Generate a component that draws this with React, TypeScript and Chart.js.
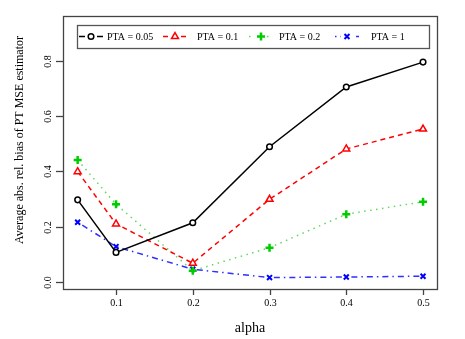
import React, { useEffect, useRef } from "react";
import { Chart, registerables } from "chart.js";
import { drawPoint } from "chart.js/helpers";

Chart.register(...registerables);

// alpha values on the horizontal axis
const alphaValues = [0.05, 0.1, 0.2, 0.3, 0.4, 0.5];

// average absolute relative bias of the PT MSE estimator, one series per PTA level
const pta005 = [0.297, 0.107, 0.214, 0.489, 0.705, 0.795];
const pta01 = [0.399, 0.21, 0.068, 0.299, 0.481, 0.553];
const pta02 = [0.441, 0.281, 0.041, 0.124, 0.245, 0.29];
const pta1 = [0.216, 0.128, 0.046, 0.016, 0.018, 0.021];

const seriesLabels = ["PTA = 0.05", "PTA = 0.1", "PTA = 0.2", "PTA = 1"];

const xTickValues = [0.1, 0.2, 0.3, 0.4, 0.5];
const yTickValues = [0, 0.2, 0.4, 0.6, 0.8];
const xTickLabels = ["0.1", "0.2", "0.3", "0.4", "0.5"];
const yTickLabels = ["0.0", "0.2", "0.4", "0.6", "0.8"];

const xTitle = "alpha";
const yTitle = "Average abs. rel. bias of PT MSE estimator";

const SERIF = "'Liberation Serif', 'Times New Roman', serif";

const toPoints = (ys: number[]) => alphaValues.map((x, i) => ({ x, y: ys[i] }));

// Frame, ticks, tick labels and axis titles drawn in base-graphics style
const axesPlugin = {
  id: "baseAxes",
  afterDatasetsDraw(chart: any) {
    const { ctx, chartArea } = chart;
    const xs = chart.scales.x;
    const ys = chart.scales.y;
    ctx.save();
    ctx.strokeStyle = "#444";
    ctx.lineWidth = 1.3;
    ctx.strokeRect(
      Math.round(chartArea.left) + 0.5,
      Math.round(chartArea.top) + 0.5,
      Math.round(chartArea.right - chartArea.left),
      Math.round(chartArea.bottom - chartArea.top)
    );

    ctx.fillStyle = "#000";
    ctx.font = `10px ${SERIF}`;
    // x ticks
    xTickValues.forEach((v, i) => {
      const px = Math.round(xs.getPixelForValue(v)) + 0.5;
      ctx.beginPath();
      ctx.moveTo(px, chartArea.bottom);
      ctx.lineTo(px, chartArea.bottom + 6);
      ctx.stroke();
      ctx.textAlign = "center";
      ctx.textBaseline = "middle";
      ctx.fillText(xTickLabels[i], px, chartArea.bottom + 14);
    });
    // y ticks with vertical labels
    yTickValues.forEach((v, i) => {
      const py = Math.round(ys.getPixelForValue(v)) + 0.5;
      ctx.beginPath();
      ctx.moveTo(chartArea.left, py);
      ctx.lineTo(chartArea.left - 7, py);
      ctx.stroke();
      ctx.save();
      ctx.translate(chartArea.left - 15, py);
      ctx.rotate(-Math.PI / 2);
      ctx.textAlign = "center";
      ctx.textBaseline = "middle";
      ctx.fillText(yTickLabels[i], 0, 0);
      ctx.restore();
    });

    // axis titles
    ctx.font = `14px ${SERIF}`;
    ctx.textAlign = "center";
    ctx.textBaseline = "middle";
    ctx.fillText(xTitle, (chartArea.left + chartArea.right) / 2, chartArea.bottom + 39);
    ctx.save();
    ctx.translate(20, 140);
    ctx.rotate(-Math.PI / 2);
    ctx.font = `12px ${SERIF}`;
    ctx.fillText(yTitle, 0, 0);
    ctx.restore();
    ctx.restore();
  },
};

// Horizontal boxed legend across the top of the plot region
const legendPlugin = {
  id: "boxLegend",
  afterDraw(chart: any) {
    const { ctx, chartArea } = chart;
    const left = chartArea.left + 14;
    const top = chartArea.top + 9;
    const w = 352;
    const h = 23;
    const cy = top + h / 2;
    ctx.save();
    ctx.fillStyle = "#fff";
    ctx.fillRect(left, top, w, h);
    ctx.strokeStyle = "#555";
    ctx.lineWidth = 1.3;
    ctx.strokeRect(left + 0.5, top + 0.5, w, h);

    const sampleCenters = [14, 98, 184, 270];
    const textStarts = [30, 120, 202, 294];
    chart.data.datasets.forEach((ds: any, i: number) => {
      const cx = left + sampleCenters[i];
      ctx.save();
      ctx.strokeStyle = ds.borderColor;
      ctx.lineWidth = ds.borderWidth;
      ctx.setLineDash(ds.borderDash || []);
      ctx.beginPath();
      ctx.moveTo(cx - 12, cy);
      ctx.lineTo(cx + 12, cy);
      ctx.stroke();
      // small gap around the symbol
      ctx.fillStyle = "#fff";
      ctx.fillRect(cx - 6, cy - 5, 12, 10);
      ctx.restore();

      ctx.save();
      ctx.setLineDash([]);
      ctx.fillStyle = ds.pointBackgroundColor;
      ctx.strokeStyle = ds.pointBorderColor;
      ctx.lineWidth = ds.pointBorderWidth;
      drawPoint(
        ctx,
        { pointStyle: ds.pointStyle, radius: ds.pointRadius, rotation: 0, borderWidth: ds.pointBorderWidth },
        cx,
        cy
      );
      ctx.restore();

      ctx.fillStyle = "#000";
      ctx.font = `10px ${SERIF}`;
      ctx.textAlign = "left";
      ctx.textBaseline = "middle";
      ctx.fillText(seriesLabels[i], left + textStarts[i], cy + 1);
    });
    ctx.restore();
  },
};

export default function App() {
  const canvasRef = useRef<HTMLCanvasElement | null>(null);

  useEffect(() => {
    if (!canvasRef.current) return;
    const chart = new Chart(canvasRef.current, {
      type: "line",
      data: {
        datasets: [
          {
            label: seriesLabels[0],
            data: toPoints(pta005),
            borderColor: "#000",
            borderWidth: 1.5,
            pointStyle: "circle",
            pointRadius: 2.8,
            pointBorderWidth: 1.5,
            pointBackgroundColor: "#fff",
            pointBorderColor: "#000",
          },
          {
            label: seriesLabels[1],
            data: toPoints(pta01),
            borderColor: "#ff0000",
            borderWidth: 1.5,
            borderDash: [5, 4],
            pointStyle: "triangle",
            pointRadius: 4,
            pointBorderWidth: 1.5,
            pointBackgroundColor: "#fff",
            pointBorderColor: "#ff0000",
          },
          {
            label: seriesLabels[2],
            data: toPoints(pta02),
            borderColor: "#5fd95f",
            borderWidth: 1.5,
            borderDash: [1.5, 4.5],
            pointStyle: "cross",
            pointRadius: 4,
            pointBorderWidth: 2.5,
            pointBackgroundColor: "#00cd00",
            pointBorderColor: "#00cd00",
          },
          {
            label: seriesLabels[3],
            data: toPoints(pta1),
            borderColor: "#2f2fff",
            borderWidth: 1.5,
            borderDash: [1.5, 4, 6, 4],
            pointStyle: "crossRot",
            pointRadius: 3.5,
            pointBorderWidth: 2,
            pointBackgroundColor: "#0000ff",
            pointBorderColor: "#0000ff",
          },
        ],
      },
      options: {
        responsive: false,
        animation: false,
        layout: { padding: { left: 63, right: 28, top: 16, bottom: 50 } },
        plugins: { legend: { display: false }, tooltip: { enabled: false } },
        elements: { line: { tension: 0 } },
        scales: {
          x: { type: "linear", min: 0.0309, max: 0.5182, display: false },
          y: { type: "linear", min: -0.0253, max: 0.9617, display: false },
        },
      },
      plugins: [axesPlugin, legendPlugin],
    });
    return () => chart.destroy();
  }, []);

  return (
    <div style={{ position: "fixed", left: 0, top: 0, width: 465, height: 339, background: "#fff" }}>
      <canvas ref={canvasRef} width={465} height={339} />
    </div>
  );
}
